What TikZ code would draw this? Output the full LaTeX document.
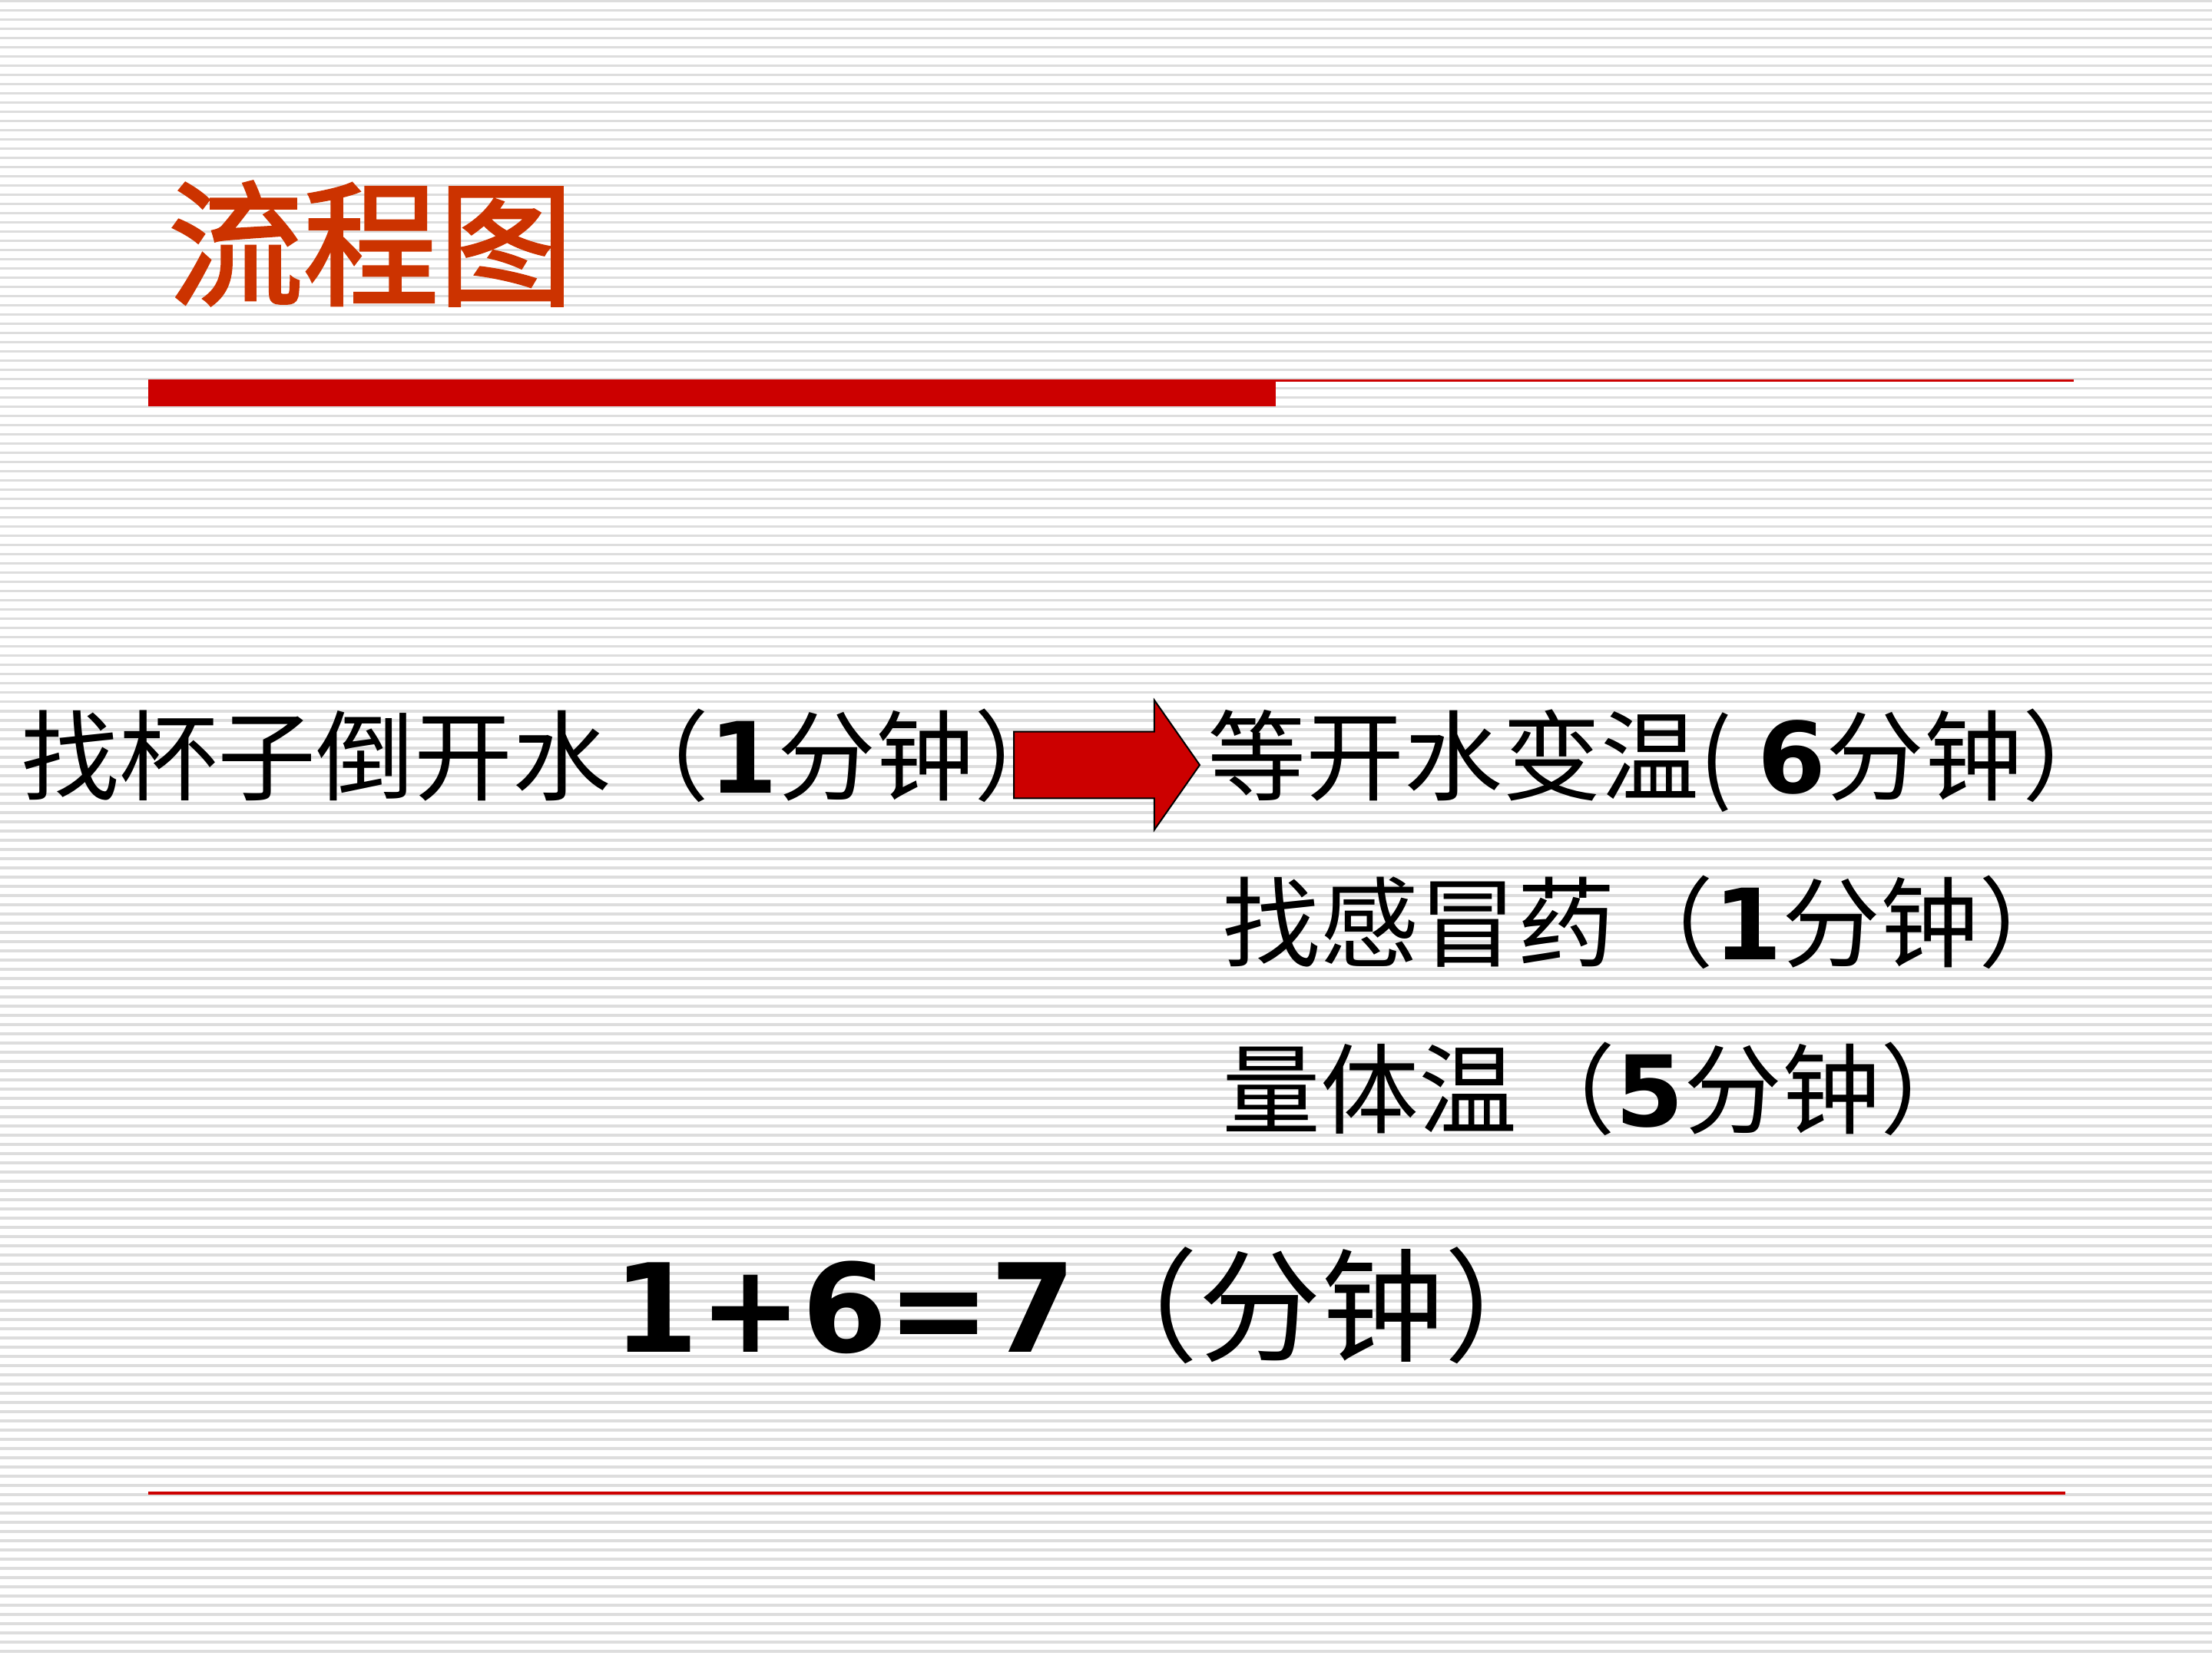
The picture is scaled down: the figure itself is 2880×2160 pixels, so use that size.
\documentclass[tikz,border=0pt]{standalone}
\usepackage{fontspec}
\setmainfont{Noto Sans CJK SC}
\newfontfamily\numfont{DejaVu Sans}
\newfontfamily\titlefont{Noto Sans CJK SC}[FakeBold=2]
\usepackage{xcolor}
\usetikzlibrary{shapes.arrows}
\definecolor{titlered}{RGB}{204,51,0}
\definecolor{barred}{RGB}{204,0,0}
\definecolor{stripegray}{RGB}{221,221,221}
\newcommand{\dig}[1]{{\numfont\bfseries #1}}

\tikzset{
  steptext/.style={anchor=base west,inner sep=0pt,font=\fontsize{32}{38}\selectfont},
  sumtext/.style={anchor=base west,inner sep=0pt,font=\fontsize{40}{48}\selectfont},
  titletext/.style={anchor=base west,inner sep=0pt,text=titlered,font=\fontsize{44}{52}\titlefont},
  bigarrow/.style={single arrow,draw=black,fill=barred,line width=0.5pt,
    inner xsep=0pt,inner ysep=10.6pt,
    minimum height=60.5pt,single arrow head extend=10.25pt,
    single arrow tip angle=110,anchor=tail}
}

\begin{document}
\begin{tikzpicture}[x=0.25pt,y=-0.25pt]
\useasboundingbox (0,0) rectangle (2880,2160);
\fill[white] (0,0) rectangle (2880,2160);
%Stripes
\foreach \k in {0,...,179}
  \fill[stripegray] (0,12*\k) rectangle (2880,12*\k+3.5);

%Bars
\fill[barred] (193,494) rectangle (1661,529);
\fill[barred] (1661,494) rectangle (2700,497.5);
\fill[barred] (193,1942) rectangle (2689,1945.5);

% Text Node
\node[titletext] (title) at (218,384) {流程图};
% Text Node
\node[steptext] (cup) at (27,1033) {找杯子倒开水（\dig{1}分钟）};
% Text Node
\node[steptext] (cool) at (1572,1033) {等开水变温(\hspace{8pt}\dig{6}分钟）};
% Text Node
\node[steptext] (med) at (1591,1249) {找感冒药（\dig{1}分钟）};
% Text Node
\node[steptext] (temp) at (1591,1466) {量体温（\dig{5}分钟）};
% Text Node
\node[sumtext] (total) at (798,1760) {\dig{1+6=7}（分钟）};

%Block Arrow
\node[bigarrow] (arr) at (1319,996) {};

\end{tikzpicture}
\end{document}
